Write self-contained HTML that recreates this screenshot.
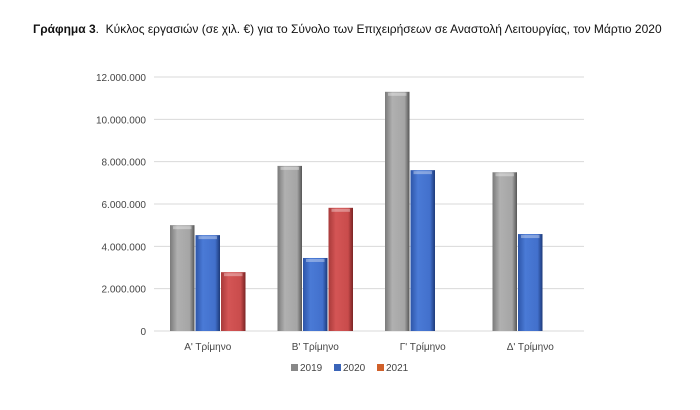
<!DOCTYPE html>
<html><head><meta charset="utf-8"><style>
body{margin:0;background:#fff;font-family:"Liberation Sans",sans-serif;}
#t{position:absolute;left:33px;top:22px;font-size:12px;color:#111;}
</style></head><body>
<div id="t"><b>Γράφημα 3</b>.&nbsp; Κύκλος εργασιών (σε χιλ. €) για το Σύνολο των Επιχειρήσεων σε Αναστολή Λειτουργίας, τον Μάρτιο 2020</div>
<svg id="c" width="700" height="410" style="position:absolute;left:0;top:0">
<defs>
<linearGradient id="g0" x1="0" x2="1"><stop offset="0" stop-color="#7a7a7a"/><stop offset=".3" stop-color="#b0b0b0"/><stop offset=".8" stop-color="#a5a5a5"/><stop offset="1" stop-color="#555"/></linearGradient>
<linearGradient id="g1" x1="0" x2="1"><stop offset="0" stop-color="#2d55a8"/><stop offset=".3" stop-color="#4a7ad6"/><stop offset=".8" stop-color="#4270cc"/><stop offset="1" stop-color="#1d3a7a"/></linearGradient>
<linearGradient id="g2" x1="0" x2="1"><stop offset="0" stop-color="#a83a3a"/><stop offset=".3" stop-color="#d45555"/><stop offset=".8" stop-color="#c94c4c"/><stop offset="1" stop-color="#7a2424"/></linearGradient>
</defs>
</svg>
<script>
const categories=["Α' Τρίμηνο","Β' Τρίμηνο","Γ' Τρίμηνο","Δ' Τρίμηνο"];
const series=["2019","2020","2021"];
const v2019=[5000000,7800000,11300000,7500000];
const v2020=[4530000,3450000,7600000,4580000];
const v2021=[2780000,5820000,null,null];
const ticks=[0,2000000,4000000,6000000,8000000,10000000,12000000];
const tickLabels=["0","2.000.000","4.000.000","6.000.000","8.000.000","10.000.000","12.000.000"];
const svg=document.getElementById('c');const NS='http://www.w3.org/2000/svg';
const x0=154,x1=584,y0=331,yTop=77,ymax=12000000;
const y=v=>y0-(v/ymax)*(y0-yTop);
const gw=(x1-x0)/categories.length;
function mk(t,a,p){const e=document.createElementNS(NS,t);for(const k in a)e.setAttribute(k,a[k]);(p||svg).appendChild(e);return e;}
ticks.forEach((t,i)=>{
const l=mk('line',{x1:x0,x2:x1,y1:y(t),y2:y(t),stroke:'#d9d9d9','stroke-width':1});


const tx=mk('text',{x:146,y:y(t)+4,'text-anchor':'end','font-size':10,fill:'#444'});tx.textContent=tickLabels[i];


});
const data=[v2019,v2020,v2021];const bw=25.5;
categories.forEach((c,i)=>{
const cx=x0+gw*(i+0.5);
const tx=mk('text',{x:cx,y:350,'text-anchor':'middle','font-size':10,fill:'#444'});tx.textContent=c;


data.forEach((arr,s)=>{const v=arr[i];if(v==null)return;
const bx=cx-bw*1.5+s*bw+0.5;
const r=mk('rect',{x:bx,y:y(v),width:bw-1,height:y0-y(v),fill:'url(#g'+s+')'});


mk('rect',{x:bx+3,y:y(v)+1,width:bw-7,height:3,fill:'rgba(255,255,255,0.35)'});
});
});
const cols=['#888','#3a64b8','#d0602a'];
series.forEach((s,i)=>{const lx=291+i*43;
const r=mk('rect',{x:lx,y:364,width:7,height:7,fill:cols[i]});


const t=mk('text',{x:lx+9,y:371,'font-size':10,fill:'#444'});t.textContent=s;


});
</script>
</body></html>
